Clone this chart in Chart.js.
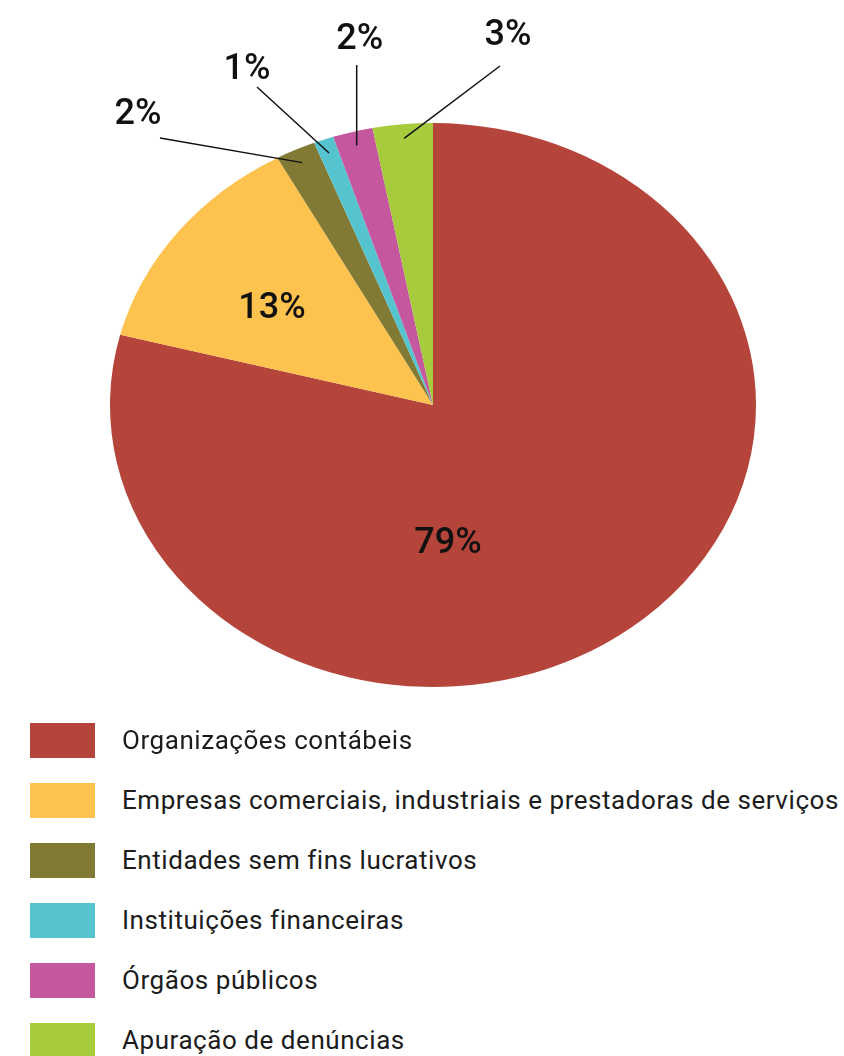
<!DOCTYPE html>
<html>
<head>
<meta charset="utf-8">
<script src="https://cdn.jsdelivr.net/npm/chart.js@4/dist/chart.umd.min.js"></script>
<style>
  html, body { margin: 0; padding: 0; background: #fff; }
  #wrap { position: relative; width: 844px; height: 1056px; overflow: hidden; }
  #pie { position: absolute; left: 0; top: 0; }
  #legend { position: absolute; left: 0; top: 723px; margin: 0; padding: 0; list-style: none; }
  #legend li { position: relative; height: 35px; margin-bottom: 25px; }
  #legend .box { position: absolute; left: 30px; top: 0; width: 65px; height: 35px; }
  #legend .txt { position: absolute; left: 122px; top: 0; line-height: 35px; white-space: nowrap;
    font-family: Roboto, sans-serif; font-size: 26px; color: #1c1c1c; letter-spacing: 0.55px; }
</style>
</head>
<body>
<div id="wrap">
  <canvas id="pie" width="844" height="740"></canvas>
  <ul id="legend"></ul>
</div>
<script>
const categories = [
  'Organizações contábeis',
  'Empresas comerciais, industriais e prestadoras de serviços',
  'Entidades sem fins lucrativos',
  'Instituições financeiras',
  'Órgãos públicos',
  'Apuração de denúncias'
];
const shares = [79, 13, 2, 1, 2, 3];
const colors = ['#b5453a', '#fec24e', '#807a35', '#55c4cf', '#c5579e', '#a6cb3c'];

// vertical squash of the pie (it is drawn as an ellipse)
const SQUASH = 0.873;

// label placement per slice: inside (offset from centre) or callout (line end + text, from centre)
// lx: null -> vertical leader line straight above the slice point
const labelPlace = [
  { dx: 15, dy: 139 },
  { dx: -161, dy: -96 },
  { lx: -273, ly: -267, tx: -295, ty: -290 },
  { lx: -176, ly: -318, tx: -186, ty: -335 },
  { lx: null, ly: -340, tx: -55, ty: -365 },
  { lx: 67, ly: -339, tx: 75, ty: -369 }
];

const ellipsePlugin = {
  id: 'ellipse',
  beforeDatasetsDraw(chart) {
    const arc = chart.getDatasetMeta(0).data[0];
    const ctx = chart.ctx;
    ctx.save();
    ctx.translate(arc.x, arc.y);
    ctx.scale(1, SQUASH);
    ctx.translate(-arc.x, -arc.y);
  },
  afterDatasetsDraw(chart) {
    chart.ctx.restore();
  }
};

const labelPlugin = {
  id: 'pctLabels',
  afterDraw(chart) {
    const ctx = chart.ctx;
    const meta = chart.getDatasetMeta(0);
    ctx.save();
    ctx.font = '500 36px Roboto, sans-serif';
    ctx.fillStyle = '#111';
    ctx.textAlign = 'center';
    ctx.textBaseline = 'middle';
    meta.data.forEach((arc, i) => {
      const p = labelPlace[i];
      const txt = shares[i] + '%';
      const cx = arc.x, cy = arc.y;
      if (p.ly === undefined) {
        ctx.fillText(txt, cx + p.dx, cy + p.dy);
        return;
      }
      const mid = (arc.startAngle + arc.endAngle) / 2;
      const r = arc.outerRadius * 0.95;
      const ix = cx + Math.cos(mid) * r;
      const iy = cy + Math.sin(mid) * r * SQUASH;
      const ox = p.lx === null ? ix : cx + p.lx;
      ctx.strokeStyle = '#111';
      ctx.lineWidth = 1.5;
      ctx.beginPath();
      ctx.moveTo(ox, cy + p.ly);
      ctx.lineTo(ix, iy);
      ctx.stroke();
      ctx.fillText(txt, p.lx === null ? ix + 3 : cx + p.tx, cy + p.ty);
    });
    ctx.restore();
  }
};

new Chart(document.getElementById('pie'), {
  type: 'pie',
  data: {
    labels: categories,
    datasets: [{
      data: shares,
      backgroundColor: colors,
      borderWidth: 0
    }]
  },
  options: {
    responsive: false,
    animation: false,
    layout: { padding: { left: 110, right: 88, top: 82, bottom: 12 } },
    plugins: { legend: { display: false }, tooltip: { enabled: false } }
  },
  plugins: [ellipsePlugin, labelPlugin]
});

// legend
const legend = document.getElementById('legend');
categories.forEach((name, i) => {
  const li = document.createElement('li');
  li.innerHTML = '<span class="box" style="background:' + colors[i] + '"></span><span class="txt"></span>';
  li.querySelector('.txt').textContent = name;
  legend.appendChild(li);
});
</script>
</body>
</html>
